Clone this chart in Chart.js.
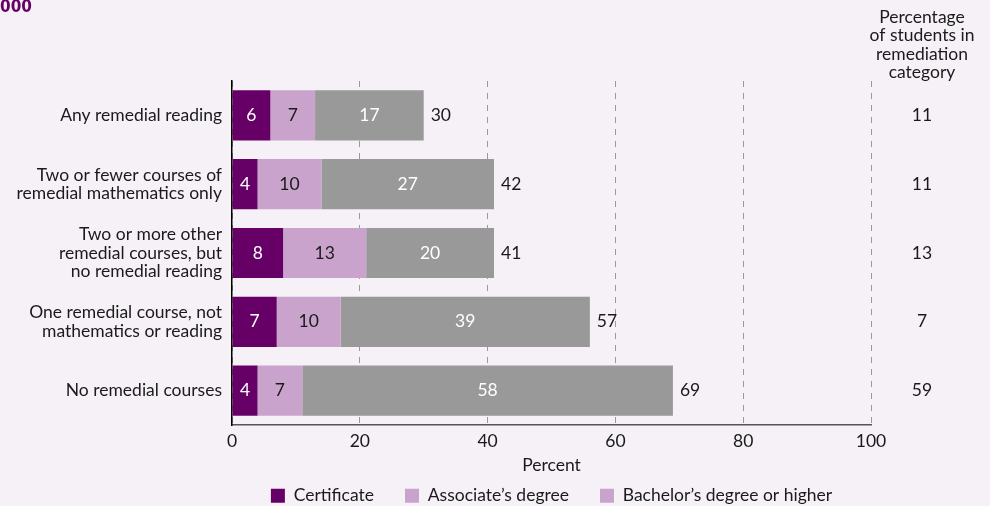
<!DOCTYPE html>
<html>
<head>
<meta charset="utf-8">
<script src="https://cdn.jsdelivr.net/npm/chart.js@4.4.0/dist/chart.umd.min.js"></script>
<style>
html, body { margin: 0; padding: 0; background: #f6f1f7; }
#wrap { width: 990px; height: 506px; position: relative; }
</style>
</head>
<body>
<div id="wrap"><canvas id="chart"></canvas></div>
<script>
// chart values
const categories = [
    'Any remedial reading',
    ['Two or fewer courses of', 'remedial mathematics only'],
    ['Two or more other', 'remedial courses, but', 'no remedial reading'],
    ['One remedial course, not', 'mathematics or reading'],
    'No remedial courses'
];
const certificate = [6, 4, 8, 7, 4];
const associate = [7, 10, 13, 10, 7];
const bachelor = [17, 27, 20, 39, 58];
const totals = [30, 42, 41, 57, 69];
const studentShare = [11, 11, 13, 7, 59];
const shareHeader = ['Percentage', 'of students in', 'remediation', 'category'];
const seriesNames = ['Certificate', 'Associate\u2019s degree', 'Bachelor\u2019s degree or higher'];

const FONT = 'Lato, "Open Sans", sans-serif';
const FSIZE = 17.5;
const PURPLE = '#660066';
const LILAC = '#c9a3cc';
const GREY = '#999999';

var overlay = {
    id: 'overlay',
    beforeDraw(chart){
        var ctx = chart.ctx;
        ctx.save();
        ctx.fillStyle = '#f6f1f7';
        ctx.fillRect(0, 0, chart.width, chart.height);
        ctx.restore();
    },
    afterDatasetsDraw(chart){
        var ctx = chart.ctx;
        ctx.save();
        ctx.font = FSIZE + 'px ' + FONT;
        ctx.textBaseline = 'middle';
        var textColors = ['#ffffff', '#1a1a1a', '#ffffff'];
        chart.data.datasets.forEach((ds, di) => {
            var meta = chart.getDatasetMeta(di);
            meta.data.forEach((bar, i) => {
                ctx.fillStyle = textColors[di];
                ctx.textAlign = 'center';
                ctx.fillText(ds.data[i], (bar.x + bar.base) / 2, bar.y);
            });
        });
        // totals after the last segment, share column on the right
        var last = chart.getDatasetMeta(chart.data.datasets.length - 1);
        last.data.forEach((bar, i) => {
            ctx.fillStyle = '#1a1a1a';
            ctx.textAlign = 'left';
            ctx.fillText(totals[i], bar.x + 7, bar.y);
            ctx.textAlign = 'center';
            ctx.fillText(studentShare[i], 922, bar.y);
        });
        ctx.textAlign = 'center';
        shareHeader.forEach((line, i) => {
            ctx.fillText(line, 922, 17 + i * 18.5);
        });
        // clipped figure number at top left
        ctx.fillStyle = PURPLE;
        ctx.font = 'bold 17px "DejaVu Sans Condensed", "DejaVu Sans", sans-serif';
        ctx.textAlign = 'right';
        ctx.textBaseline = 'alphabetic';
        ctx.fillText('2000', 32, 12);
        ctx.restore();
    }
};

var ctx = document.getElementById('chart').getContext('2d');
var chart = new Chart(ctx, {
    type: 'bar',
    data: {
        labels: categories,
        datasets: [
            { label: seriesNames[0], data: certificate, backgroundColor: PURPLE },
            { label: seriesNames[1], data: associate, backgroundColor: LILAC },
            { label: seriesNames[2], data: bachelor, backgroundColor: GREY }
        ]
    },
    options: {
        indexAxis: 'y',
        responsive: true,
        maintainAspectRatio: false,
        animation: false,
        categoryPercentage: 1,
        barPercentage: 0.73,
        layout: {
            padding: { top: 81, right: 119, left: 0, bottom: 0 }
        },
        plugins: {
            tooltip: { enabled: false },
            legend: {
                position: 'bottom',
                fullSize: false,
                maxHeight: 50,
                labels: {
                    color: '#1a1a1a',
                    font: { family: FONT, size: FSIZE },
                    boxWidth: 14,
                    boxHeight: 14,
                    padding: 31,
                    generateLabels: function(chart){
                        var items = Chart.defaults.plugins.legend.labels.generateLabels(chart);
                        items.forEach(it => { it.lineWidth = 0; });
                        // the source legend shows the third key in the lilac shade
                        items[2].fillStyle = LILAC;
                        items[2].strokeStyle = LILAC;
                        return items;
                    }
                }
            }
        },
        scales: {
            x: {
                stacked: true,
                min: 0,
                max: 100,
                afterFit: function(scale){ scale.height = 31; },
                ticks: {
                    stepSize: 20,
                    color: '#1a1a1a',
                    padding: 6,
                    font: { family: FONT, size: FSIZE }
                },
                grid: {
                    color: '#9a9a9a',
                    lineWidth: 1,
                    drawTicks: false
                },
                border: {
                    display: true,
                    color: '#555555',
                    width: 1.5,
                    dash: [6, 6]
                },
                title: {
                    display: true,
                    text: 'Percent',
                    color: '#1a1a1a',
                    font: { family: FONT, size: FSIZE },
                    padding: { top: 0, bottom: -20 }
                }
            },
            y: {
                stacked: true,
                afterFit: function(scale){ scale.width = 232; },
                ticks: {
                    color: '#1a1a1a',
                    padding: 10,
                    font: { family: FONT, size: FSIZE, lineHeight: 1.06 }
                },
                grid: { display: false, drawTicks: false },
                border: { display: true, color: '#000000', width: 1.5 }
            }
        }
    },
    plugins: [overlay]
});
</script>
</body>
</html>
